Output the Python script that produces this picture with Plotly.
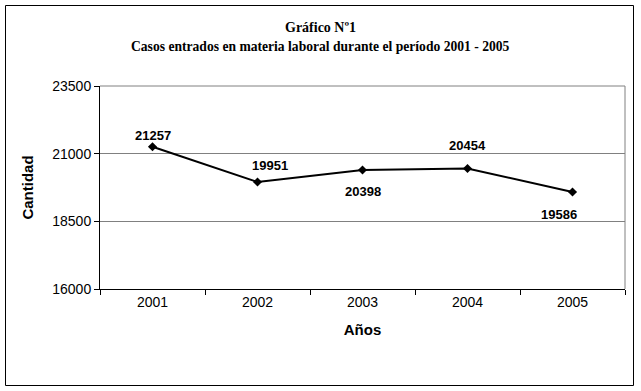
import plotly.graph_objects as go

years = ["2001", "2002", "2003", "2004", "2005"]
cases = [21257, 19951, 20398, 20454, 19586]
label_dx = [0, 12, 0, 0, -14]
label_dy = [-11, -17, 22, -23, 23]
y_ticks = [16000, 18500, 21000, 23500]

W, H = 641, 391
L, R, T, B = 100, 625, 86, 289

def px(x):
    return (x - L) / (R - L)

def py(y):
    return (B - y) / (B - T)

fig = go.Figure()
fig.add_trace(go.Scatter(
    x=years, y=cases, mode="lines+markers",
    line=dict(color="black", width=2),
    marker=dict(symbol="diamond", size=7, color="black"),
    cliponaxis=False, showlegend=False, hoverinfo="skip",
))

for i, (v, dx, dy) in enumerate(zip(cases, label_dx, label_dy)):
    fig.add_annotation(x=i, y=v, text=f"<b>{v}</b>", showarrow=False,
                       xshift=dx, yshift=-dy, xanchor="center", yanchor="middle",
                       font=dict(family="Arial, Liberation Sans", size=13, color="black"))

fig.add_annotation(xref="paper", yref="paper", x=px(320.5), y=py(28),
                   xanchor="center", yanchor="middle",
                   text="<b>Gráfico Nº1</b>", showarrow=False,
                   font=dict(family="Liberation Serif, Times New Roman", size=14, color="black"))
fig.add_annotation(xref="paper", yref="paper", x=px(320.5), y=py(47),
                   xanchor="center", yanchor="middle",
                   text="<b>Casos entrados en materia laboral durante el período 2001 - 2005</b>",
                   showarrow=False,
                   font=dict(family="Liberation Serif, Times New Roman", size=13.6, color="black"))

# outer border
fig.add_shape(type="rect", xref="paper", yref="paper",
              x0=px(5.5), x1=px(633.5), y0=py(385.5), y1=py(5.5),
              line=dict(color="black", width=1))
# plot area gray border (top/right)
fig.add_shape(type="line", xref="paper", yref="paper", x0=0, x1=1, y0=1, y1=1,
              line=dict(color="#808080", width=1))
fig.add_shape(type="line", xref="paper", yref="paper", x0=1, x1=1, y0=0, y1=1,
              line=dict(color="#808080", width=1))

fig.update_xaxes(
    type="category", range=[-0.5, 4.5], tickson="boundaries",
    ticks="outside", ticklen=5, tickcolor="black", tickwidth=1,
    showline=True, linecolor="black", linewidth=1, showgrid=False,
    tickfont=dict(family="Arial, Liberation Sans", size=14, color="black"),
    title=dict(text="<b>Años</b>", standoff=15,
               font=dict(family="Arial, Liberation Sans", size=15, color="black")),
    fixedrange=True,
)
fig.update_yaxes(
    range=[16000, 23500], tickvals=y_ticks, ticktext=[str(t) for t in y_ticks],
    ticks="outside", ticklen=5, tickcolor="black", tickwidth=1,
    showline=True, linecolor="black", linewidth=1,
    showgrid=True, gridcolor="#808080", gridwidth=1, zeroline=False,
    tickfont=dict(family="Arial, Liberation Sans", size=14, color="black"),
    title=dict(text="<b>Cantidad</b>", standoff=15,
               font=dict(family="Arial, Liberation Sans", size=15, color="black")),
    fixedrange=True,
)

fig.update_layout(
    width=W, height=H,
    margin=dict(l=L, r=W - R, t=T, b=H - B),
    paper_bgcolor="white", plot_bgcolor="white",
    showlegend=False,
)

fig.write_html("out.html", config={"displayModeBar": False},
               post_script="document.body.style.margin='0';document.body.style.padding='0';")
